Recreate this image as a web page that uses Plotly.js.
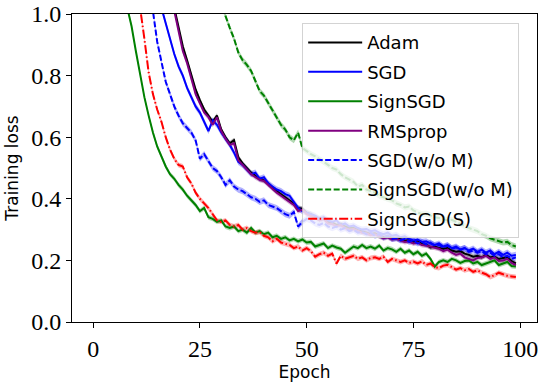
<!DOCTYPE html>
<html>
<head>
<meta charset="utf-8">
<script src="https://cdn.plot.ly/plotly-3.0.1.min.js"></script>
<style>
  html, body { margin: 0; padding: 0; background: #fff; }
  #chart { width: 543px; height: 385px; }
</style>
</head>
<body>
<div id="chart"></div>
<script>
// training loss per epoch (values above 1 are clipped)
var epochs = [];
for (var i = 0; i < 100; i++) epochs.push(i);

var adam = [3.1, 2.8, 2.55, 2.34, 2.15, 1.99, 1.85, 1.73, 1.63, 1.54,
  1.46, 1.39, 1.33, 1.27, 1.22, 1.17, 1.13, 1.09, 1.05, 1.02,
  0.96, 0.895, 0.85, 0.80, 0.755, 0.72, 0.69, 0.67, 0.65, 0.67,
  0.625, 0.60, 0.58, 0.59, 0.535, 0.515, 0.50, 0.485, 0.475, 0.465,
  0.46, 0.45, 0.435, 0.425, 0.415, 0.405, 0.395, 0.385, 0.37, 0.368,
  0.355, 0.35, 0.34, 0.335, 0.338, 0.325, 0.322, 0.315, 0.318, 0.31,
  0.305, 0.305, 0.298, 0.295, 0.29, 0.285, 0.288, 0.28, 0.275, 0.278,
  0.272, 0.273, 0.268, 0.264, 0.265, 0.26, 0.262, 0.255, 0.252, 0.242,
  0.245, 0.24, 0.238, 0.24, 0.232, 0.228, 0.23, 0.222, 0.218, 0.212,
  0.215, 0.21, 0.218, 0.21, 0.212, 0.205, 0.208, 0.21, 0.198, 0.19];

var sgd = [3.0, 2.7, 2.45, 2.22, 2.03, 1.87, 1.73, 1.61, 1.5, 1.41,
  1.33, 1.26, 1.2, 1.15, 1.1, 1.06, 1.02, 0.97, 0.92, 0.87,
  0.83, 0.80, 0.76, 0.73, 0.70, 0.68, 0.65, 0.62, 0.655, 0.64,
  0.615, 0.595, 0.575, 0.55, 0.52, 0.51, 0.495, 0.48, 0.485, 0.465,
  0.47, 0.45, 0.44, 0.43, 0.425, 0.415, 0.41, 0.39, 0.37, 0.36,
  0.355, 0.35, 0.345, 0.335, 0.34, 0.33, 0.325, 0.33, 0.315, 0.32,
  0.31, 0.313, 0.305, 0.30, 0.302, 0.295, 0.298, 0.29, 0.285, 0.29,
  0.28, 0.283, 0.275, 0.278, 0.27, 0.265, 0.268, 0.26, 0.262, 0.255,
  0.25, 0.255, 0.245, 0.25, 0.24, 0.245, 0.235, 0.24, 0.232, 0.238,
  0.228, 0.235, 0.225, 0.232, 0.22, 0.228, 0.218, 0.225, 0.215, 0.218];

var signsgd = [2.2, 1.9, 1.68, 1.5, 1.36, 1.25, 1.16, 1.08, 1.02, 0.96,
  0.88, 0.80, 0.73, 0.67, 0.615, 0.57, 0.535, 0.505, 0.48, 0.465,
  0.445, 0.43, 0.41, 0.395, 0.38, 0.36, 0.37, 0.34, 0.335, 0.325,
  0.33, 0.31, 0.305, 0.31, 0.295, 0.30, 0.29, 0.305, 0.29, 0.295,
  0.285, 0.29, 0.275, 0.28, 0.27, 0.275, 0.265, 0.27, 0.262, 0.268,
  0.258, 0.26, 0.245, 0.25, 0.255, 0.24, 0.248, 0.242, 0.238, 0.225,
  0.235, 0.245, 0.24, 0.25, 0.24, 0.245, 0.238, 0.248, 0.232, 0.24,
  0.236, 0.228, 0.238, 0.225, 0.232, 0.22, 0.228, 0.215, 0.222, 0.205,
  0.18, 0.195, 0.2, 0.195, 0.205, 0.2, 0.192, 0.198, 0.2, 0.19,
  0.195, 0.185, 0.19, 0.195, 0.2, 0.185, 0.19, 0.195, 0.182, 0.18];

var rmsprop = [3.1, 2.8, 2.55, 2.33, 2.14, 1.98, 1.84, 1.72, 1.62, 1.53,
  1.45, 1.38, 1.32, 1.26, 1.21, 1.16, 1.12, 1.08, 1.04, 1.01,
  0.95, 0.88, 0.84, 0.79, 0.74, 0.71, 0.68, 0.665, 0.64, 0.665,
  0.62, 0.595, 0.575, 0.58, 0.525, 0.51, 0.495, 0.48, 0.47, 0.462,
  0.458, 0.445, 0.43, 0.42, 0.41, 0.40, 0.39, 0.38, 0.36, 0.365,
  0.35, 0.345, 0.338, 0.33, 0.335, 0.32, 0.318, 0.312, 0.315, 0.305,
  0.30, 0.302, 0.295, 0.29, 0.288, 0.282, 0.285, 0.278, 0.272, 0.275,
  0.268, 0.27, 0.265, 0.26, 0.262, 0.255, 0.258, 0.25, 0.248, 0.245,
  0.24, 0.238, 0.23, 0.235, 0.225, 0.218, 0.222, 0.21, 0.205, 0.20,
  0.208, 0.21, 0.215, 0.205, 0.21, 0.198, 0.2, 0.205, 0.192, 0.185];

var sgdNoM = [3.2, 2.85, 2.55, 2.3, 2.1, 1.92, 1.76, 1.62, 1.5, 1.39,
  1.3, 1.21, 1.13, 1.06, 1.01, 0.91, 0.84, 0.78, 0.74, 0.70,
  0.67, 0.645, 0.63, 0.615, 0.59, 0.53, 0.545, 0.52, 0.50, 0.49,
  0.47, 0.445, 0.46, 0.44, 0.43, 0.425, 0.415, 0.405, 0.40, 0.39,
  0.395, 0.38, 0.375, 0.37, 0.36, 0.35, 0.345, 0.357, 0.31, 0.325,
  0.335, 0.33, 0.32, 0.315, 0.322, 0.31, 0.305, 0.31, 0.30, 0.305,
  0.295, 0.30, 0.29, 0.293, 0.285, 0.29, 0.28, 0.285, 0.275, 0.28,
  0.27, 0.273, 0.265, 0.27, 0.26, 0.265, 0.255, 0.26, 0.252, 0.258,
  0.248, 0.25, 0.242, 0.248, 0.238, 0.242, 0.235, 0.24, 0.228, 0.232,
  0.225, 0.23, 0.22, 0.225, 0.215, 0.22, 0.21, 0.215, 0.205, 0.21];

var signsgdNoM = [4.6, 4.3, 4.0, 3.75, 3.5, 3.28, 3.08, 2.9, 2.73, 2.57,
  2.43, 2.3, 2.18, 2.07, 1.97, 1.88, 1.79, 1.71, 1.64, 1.57,
  1.51, 1.45, 1.39, 1.34, 1.29, 1.24, 1.19, 1.15, 1.11, 1.07,
  1.03, 0.99, 0.955, 0.92, 0.875, 0.85, 0.835, 0.815, 0.78, 0.75,
  0.735, 0.71, 0.69, 0.665, 0.64, 0.625, 0.60, 0.59, 0.615, 0.565,
  0.555, 0.545, 0.538, 0.53, 0.52, 0.51, 0.50, 0.495, 0.48, 0.47,
  0.462, 0.455, 0.44, 0.445, 0.43, 0.425, 0.42, 0.41, 0.405, 0.40,
  0.395, 0.385, 0.38, 0.372, 0.375, 0.362, 0.355, 0.35, 0.352, 0.345,
  0.34, 0.338, 0.335, 0.33, 0.332, 0.325, 0.318, 0.31, 0.305, 0.30,
  0.295, 0.285, 0.28, 0.272, 0.268, 0.262, 0.258, 0.26, 0.25, 0.245];

var signsgdS = [2.6, 2.3, 2.05, 1.85, 1.68, 1.54, 1.42, 1.32, 1.23, 1.15,
  1.08, 1.02, 0.92, 0.81, 0.74, 0.69, 0.65, 0.60, 0.56, 0.53,
  0.51, 0.505, 0.47, 0.45, 0.42, 0.40, 0.385, 0.37, 0.35, 0.33,
  0.325, 0.33, 0.315, 0.31, 0.315, 0.30, 0.305, 0.295, 0.29, 0.292,
  0.28, 0.275, 0.262, 0.27, 0.258, 0.255, 0.25, 0.24, 0.245, 0.232,
  0.24, 0.23, 0.212, 0.22, 0.225, 0.215, 0.222, 0.19, 0.215, 0.205,
  0.21, 0.215, 0.205, 0.21, 0.2, 0.208, 0.21, 0.205, 0.212, 0.195,
  0.205, 0.2, 0.195, 0.2, 0.192, 0.196, 0.19, 0.197, 0.185, 0.19,
  0.178, 0.175, 0.183, 0.186, 0.178, 0.17, 0.175, 0.168, 0.172, 0.163,
  0.168, 0.16, 0.155, 0.146, 0.152, 0.16, 0.155, 0.15, 0.148, 0.146];

// half width of the shaded spread around each curve
var spread = [0.008, 0.01, 0.008, 0.008, 0.01, 0.01, 0.008];

var names = ["Adam", "SGD", "SignSGD", "RMSprop", "SGD(w/o M)", "SignSGD(w/o M)", "SignSGD(S)"];
var series = [adam, sgd, signsgd, rmsprop, sgdNoM, signsgdNoM, signsgdS];
var colors = ["0,0,0", "0,0,255", "0,128,0", "128,0,128", "0,0,255", "0,128,0", "255,0,0"];
var dashes = ["solid", "solid", "solid", "solid", "6px,2.5px", "6px,2.5px", "9px,2.5px,1.5px,2.5px"];

var data = [];
// bands first
for (var k = 0; k < series.length; k++) {
  var up = series[k].map(v => v + spread[k]);
  var lo = series[k].map(v => v - spread[k]);
  data.push({x: epochs, y: up, mode: "lines", line: {width: 0, color: "rgba(" + colors[k] + ",0)"},
    showlegend: false, hoverinfo: "skip"});
  data.push({x: epochs, y: lo, mode: "lines", line: {width: 0, color: "rgba(" + colors[k] + ",0)"},
    fill: "tonexty", fillcolor: "rgba(" + colors[k] + ",0.3)", showlegend: false, hoverinfo: "skip"});
}
// then the lines
for (var k = 0; k < series.length; k++) {
  data.push({
    x: epochs, y: series[k], name: names[k], mode: "lines",
    legendgroup: "g" + k,
    line: {color: "rgb(" + colors[k] + ")", width: 2, dash: dashes[k]}
  });
}

var tickFont = {family: "Liberation Serif, serif", size: 24, color: "#000"};
var sansFont = {family: "DejaVu Sans, sans-serif", size: 17, color: "#000"};

var layout = {
  width: 543, height: 385,
  margin: {l: 72, r: 6, t: 14, b: 63},
  paper_bgcolor: "#fff", plot_bgcolor: "#fff",
  showlegend: true,
  xaxis: {
    range: [-4.95, 103.95], tickvals: [0, 25, 50, 75, 100],
    showgrid: false, zeroline: false, showline: true, mirror: true,
    linecolor: "#000", linewidth: 1, ticks: "outside", ticklen: 5, tickcolor: "#000",
    tickfont: tickFont,
    title: {text: "Epoch", font: sansFont, standoff: 2}
  },
  yaxis: {
    range: [0, 1], tickvals: [0, 0.2, 0.4, 0.6, 0.8, 1.0], tickformat: ".1f",
    showgrid: false, zeroline: false, showline: true, mirror: true,
    linecolor: "#000", linewidth: 1, ticks: "outside", ticklen: 5, tickcolor: "#000",
    tickfont: tickFont,
    title: {text: "Training loss", font: sansFont, standoff: 8}
  },
  legend: {
    x: 0.495, y: 0.97, xanchor: "left", yanchor: "top",
    bgcolor: "rgba(255,255,255,0.8)", bordercolor: "rgba(200,200,200,0.8)", borderwidth: 1,
    font: {family: "DejaVu Sans, sans-serif", size: 18, color: "#000"},
    traceorder: "grouped", tracegroupgap: 3, itemwidth: 54
  }
};

Plotly.newPlot("chart", data, layout, {displayModeBar: false, staticPlot: true});
</script>
</body>
</html>
